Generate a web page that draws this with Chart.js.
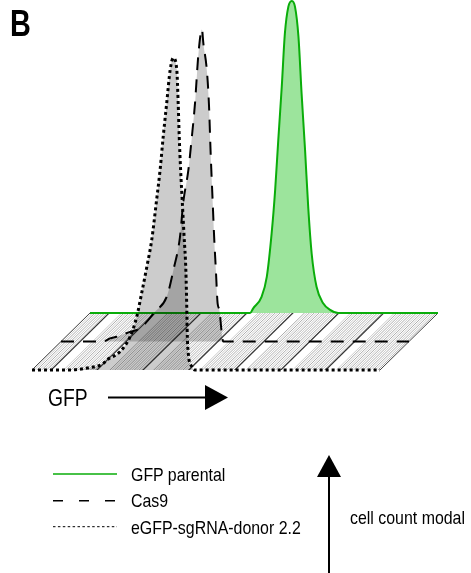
<!DOCTYPE html>
<html>
<head>
<meta charset="utf-8">
<script src="https://cdn.jsdelivr.net/npm/chart.js@4.4.1/dist/chart.umd.min.js"></script>
<style>
  body { margin: 0; background: #fff; }
  #wrap { position: relative; width: 471px; height: 573px; overflow: hidden; font-family: "Liberation Sans", Arial, sans-serif; }
  #wrap canvas { position: absolute; left: 0; top: 0; }
  .lbl { position: absolute; white-space: nowrap; line-height: 1; color: #000; transform-origin: 0 0; }
</style>
</head>
<body>
<div id="wrap">
  <canvas id="gfpChart" width="471" height="573"></canvas>
  <div class="lbl" style="left:10px;top:5px;font-size:37px;font-weight:bold;transform:scaleX(0.78)">B</div>
  <div class="lbl" style="left:48px;top:387px;font-size:23px;transform:scaleX(0.84)">GFP</div>
  <div class="lbl" style="left:350px;top:509px;font-size:18.5px;transform:scaleX(0.86)">cell count modal</div>
  <div id="legend"></div>
</div>
<script>
// GFP intensity (0-100 along the floor) and modal cell count (% of peak)
var greenGfp   = [0, 46.0, 46.9, 49.3, 50.8, 52.2, 53.2, 54.1, 55.1, 56.0, 57.0, 58.0, 58.9, 59.9, 60.8, 61.8, 62.7, 63.7, 65.1, 67.0, 69.0, 71.3, 100];
var greenCount = [0, 0, 1.5, 5.2, 11.6, 25.6, 39.4, 55.4, 72.5, 89.6, 98.2, 100, 98.2, 88.6, 70.4, 52.2, 34, 19, 8.4, 3.1, 1.0, 0, 0];

var cas9Gfp   = [0, 12.1, 14.1, 16.0, 19.8, 22.7, 27.0, 30.4, 32.3, 34.2, 35.1, 36.6, 37.6, 38.5, 39.5, 40.5, 40.9, 41.9, 42.5, 43.0, 43.6, 44.0, 44.5, 45.0, 45.5, 46.2, 46.6, 100];
var cas9Count = [0, 0, 1.0, 1.5, 3.1, 4.2, 9.5, 14.4, 22.9, 33.6, 44.3, 55.0, 65.6, 76.3, 92.4, 100, 95.6, 87.0, 76.3, 60.3, 44.3, 33.6, 22.9, 12.2, 10.1, 2.6, 0, 0];

var donorGfp   = [0, 10.9, 16.7, 20.4, 21.5, 25.3, 28.2, 30.1, 31.5, 33.0, 34.4, 35.8, 36.8, 37.7, 38.7, 39.7, 40.6, 41.6, 42.0, 42.3, 42.7, 43.2, 43.7, 44.2, 44.5, 44.6, 44.9, 45.9, 46.8, 100];
var donorCount = [0, 0, 0.8, 2.0, 3.2, 5.9, 10.7, 17.1, 24.6, 33.1, 41.7, 54.5, 64.1, 74.8, 85.5, 96.2, 100, 96.2, 85.5, 74.8, 64.1, 53.4, 42.7, 32.1, 18.2, 11.8, 5.4, 1.1, 0, 0];

var seriesNames = ['GFP parental', 'Cas9', 'eGFP-sgRNA-donor 2.2'];
// log decade lines on the floor
var floorGrid = [5.5, 18.7, 31.9, 45.1, 58.3, 71.5, 84.4];

// depth shift for each row of the staggered plot
var DX = -8.33, DY = -9.13;

function shifted(gfp, count, depth) {
    var pts = [];
    for (var i = 0; i < gfp.length; i++) {
        pts.push({ x: gfp[i] + depth * DX, y: count[i] + depth * DY });
    }
    return pts;
}

function floorPt(chart, g, depth) {
    return [chart.scales.x.getPixelForValue(g + depth * DX), chart.scales.y.getPixelForValue(depth * DY)];
}

const floorPlugin = {
    id: 'floor',
    beforeDatasetsDraw: function(chart) {
        var ctx = chart.ctx;
        var a = floorPt(chart, 0, 0), b = floorPt(chart, 100, 0), c = floorPt(chart, 100, 2), d = floorPt(chart, 0, 2);
        ctx.save();
        ctx.beginPath();
        ctx.moveTo(a[0], a[1]); ctx.lineTo(b[0], b[1]); ctx.lineTo(c[0], c[1]); ctx.lineTo(d[0], d[1]);
        ctx.closePath();
        ctx.clip();
        // fine hatch
        ctx.lineWidth = 1;
        var k = 0;
        for (var g = 0; g <= 100; g += 0.7) {
            var skip = false;
            for (var j = 0; j < floorGrid.length; j++) {
                if (g >= floorGrid[j] && g < floorGrid[j] + 3) skip = true;
            }
            k++;
            if (skip) continue;
            ctx.strokeStyle = (k % 2) ? 'rgba(0,0,0,0.32)' : 'rgba(0,0,0,0.2)';
            var p = floorPt(chart, g, -0.1), q = floorPt(chart, g, 2.1);
            ctx.beginPath(); ctx.moveTo(p[0], p[1]); ctx.lineTo(q[0], q[1]); ctx.stroke();
        }
        ctx.strokeStyle = '#333';
        ctx.lineWidth = 1.2;
        floorGrid.forEach(function(g) {
            var p = floorPt(chart, g, -0.1), q = floorPt(chart, g, 2.1);
            ctx.beginPath(); ctx.moveTo(p[0], p[1]); ctx.lineTo(q[0], q[1]); ctx.stroke();
        });
        ctx.restore();
        ctx.save();
        ctx.strokeStyle = '#444';
        ctx.lineWidth = 1;
        ctx.beginPath(); ctx.moveTo(a[0], a[1]); ctx.lineTo(d[0], d[1]); ctx.stroke();
        ctx.beginPath(); ctx.moveTo(b[0], b[1]); ctx.lineTo(c[0], c[1]); ctx.stroke();
        ctx.restore();
    }
};

const extrasPlugin = {
    id: 'extras',
    afterDraw: function(chart) {
        var ctx = chart.ctx;
        ctx.save();
        ctx.fillStyle = '#000';
        ctx.strokeStyle = '#000';
        ctx.lineWidth = 2;
        // GFP arrow
        ctx.beginPath(); ctx.moveTo(108, 397.5); ctx.lineTo(207, 397.5); ctx.stroke();
        ctx.beginPath(); ctx.moveTo(205, 385); ctx.lineTo(228, 397.5); ctx.lineTo(205, 410); ctx.closePath(); ctx.fill();
        // cell count arrow
        ctx.beginPath(); ctx.moveTo(329, 573); ctx.lineTo(329, 475); ctx.stroke();
        ctx.beginPath(); ctx.moveTo(317, 477); ctx.lineTo(329, 455); ctx.lineTo(341, 477); ctx.closePath(); ctx.fill();
        // legend samples
        var rows = [474, 500.7, 526.7];
        chart.data.datasets.forEach(function(ds, i) {
            ctx.beginPath();
            ctx.strokeStyle = ds.borderColor;
            ctx.lineWidth = i == 2 ? 1 : 1.5;
            ctx.setLineDash(i == 1 ? [10, 16] : (i == 2 ? [2.5, 2.4] : []));
            ctx.moveTo(53, rows[i]); ctx.lineTo(117, rows[i]);
            ctx.stroke();
        });
        ctx.restore();
    }
};

const ctx = document.getElementById('gfpChart');
const gfpChart = new Chart(ctx, {
    type: 'line',
    data: {
        datasets: [{
            label: seriesNames[0],
            data: shifted(greenGfp, greenCount, 0),
            borderColor: '#0aad0a',
            backgroundColor: 'rgba(20,190,20,0.42)',
            borderWidth: 2,
            fill: { value: 0 },
            order: 3
        }, {
            label: seriesNames[1],
            data: shifted(cas9Gfp, cas9Count, 1),
            borderColor: '#000',
            backgroundColor: 'rgba(0,0,0,0.2)',
            borderWidth: 2,
            borderDash: [13, 9],
            fill: { value: DY },
            order: 2
        }, {
            label: seriesNames[2],
            data: shifted(donorGfp, donorCount, 2),
            borderColor: '#000',
            backgroundColor: 'rgba(0,0,0,0.2)',
            borderWidth: 3,
            borderDash: [3, 3],
            fill: { value: 2 * DY },
            order: 1
        }]
    },
    options: {
        responsive: false,
        animation: false,
        layout: { padding: 0 },
        elements: {
            point: { radius: 0 },
            line: { cubicInterpolationMode: 'monotone' }
        },
        plugins: {
            legend: { display: false },
            tooltip: { enabled: false }
        },
        scales: {
            x: { type: 'linear', display: false, min: -25.86, max: 109.48 },
            y: { type: 'linear', display: false, min: -83.33, max: 100.32 }
        }
    },
    plugins: [floorPlugin, extrasPlugin]
});

// legend texts from the dataset labels
var legendTops = [465.6, 492.3, 518.6];
var legendBox = document.getElementById('legend');
gfpChart.data.datasets.forEach(function(ds, i) {
    var el = document.createElement('div');
    el.className = 'lbl';
    el.style.left = '131px';
    el.style.top = legendTops[i] + 'px';
    el.style.fontSize = '18.5px';
    el.style.transform = 'scaleX(0.86)';
    el.textContent = ds.label;
    legendBox.appendChild(el);
});
</script>
</body>
</html>
